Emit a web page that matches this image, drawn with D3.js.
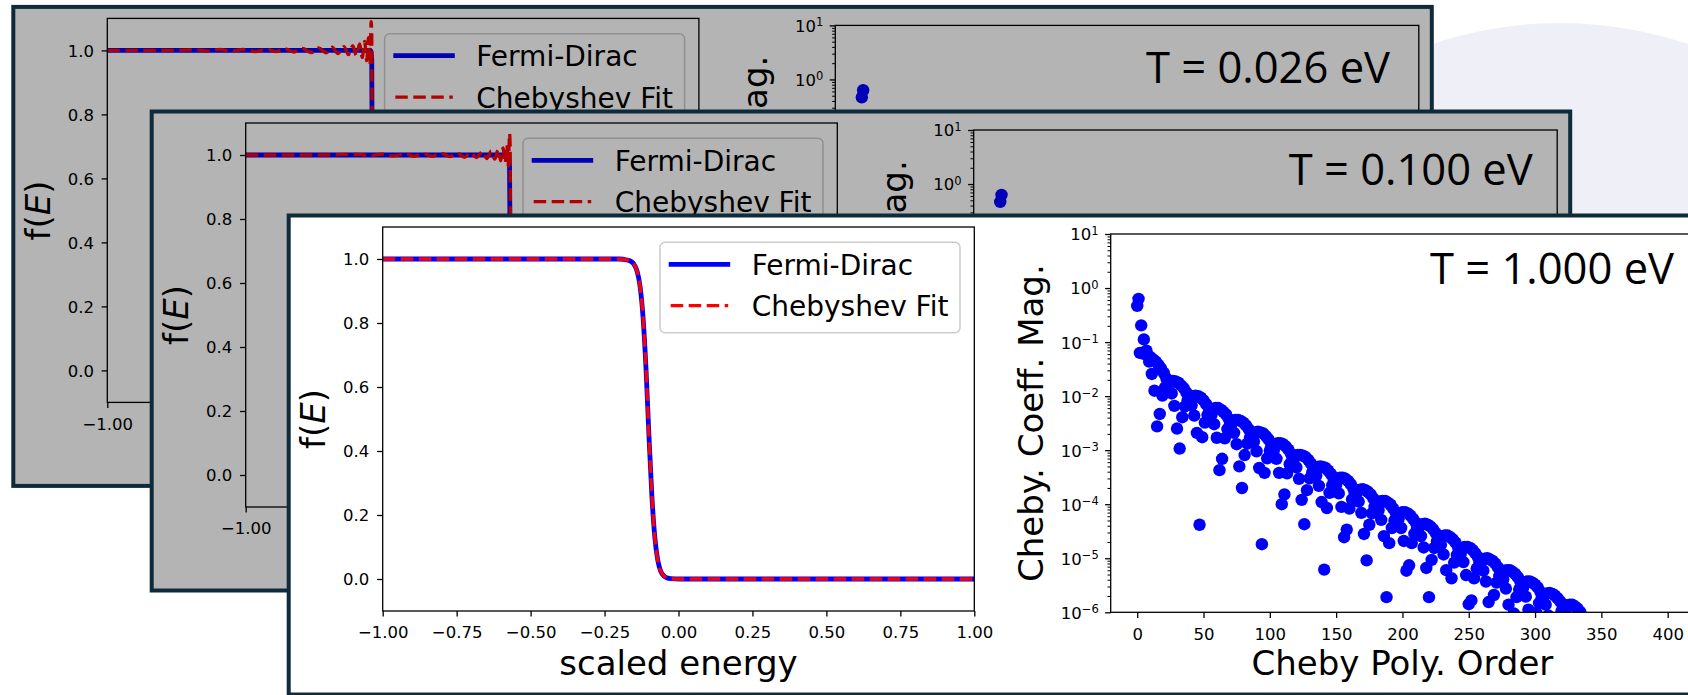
<!DOCTYPE html>
<html><head><meta charset="utf-8">
<script src="https://cdn.jsdelivr.net/npm/d3@7"></script>
<style>html,body{margin:0;padding:0;background:#fff;overflow:hidden}svg{display:block}</style>
</head><body>
<svg id="chart" width="1688" height="695"></svg>
<script>
// ---------------- DATA ----------------
const temperatureLabels = ["T = 0.026 eV", "T = 0.100 eV", "T = 1.000 eV"];
const legendLabels = ["Fermi-Dirac", "Chebyshev Fit"];
const energyTicks = [-1, -0.75, -0.5, -0.25, 0, 0.25, 0.5, 0.75, 1];
const occupationTicks = [0, 0.2, 0.4, 0.6, 0.8, 1.0];
const orderTicks = [0, 50, 100, 150, 200, 250, 300, 350, 400];
const coeffDecadeTicks = [1e-6, 1e-5, 1e-4, 1e-3, 1e-2, 1e-1, 1, 10];

// f(E) curves: [scaled energy, f]
const fermiT026 = [[-1,1],[-0.11,1],[-0.106,0.97],[-0.104,0.5],[-0.102,0.03],[-0.098,0],[1,0]];
const chebT026 = [[-1,1],[-0.8,1],[-0.7,1.002],[-0.66,0.998],[-0.62,1.003],[-0.58,0.997],[-0.54,1.003],[-0.5,0.996],
  [-0.46,1.004],[-0.43,0.996],[-0.4,1.005],[-0.37,0.995],[-0.34,1.006],[-0.31,0.993],[-0.285,1.008],[-0.26,0.992],
  [-0.24,1.01],[-0.22,0.99],[-0.2,1.012],[-0.185,0.987],[-0.17,1.015],[-0.158,0.984],[-0.147,1.02],[-0.138,0.978],
  [-0.13,1.028],[-0.123,0.968],[-0.117,1.04],[-0.112,0.955],[-0.108,1.09],[-0.106,1.05],[-0.105,0.8],[-0.103,0.4],
  [-0.101,0.05],[-0.099,-0.06],[-0.096,0.04],[-0.092,-0.03],[-0.087,0.025],[-0.08,-0.018],[-0.072,0.014],[-0.062,-0.011],
  [-0.05,0.009],[-0.035,-0.007],[-0.015,0.006],[0.01,-0.005],[0.04,0.004],[0.08,-0.003],[0.13,0.003],[0.2,-0.002],
  [0.3,0.002],[0.45,-0.001],[0.6,0],[1,0]];
const fermiT100 = [[-1,1],[-0.112,1],[-0.108,0.96],[-0.105,0.5],[-0.102,0.04],[-0.098,0],[1,0]];
const chebT100 = [[-1,1],[-0.75,1],[-0.62,1.002],[-0.58,0.998],[-0.54,1.003],[-0.5,0.997],[-0.46,1.003],[-0.43,0.996],
  [-0.4,1.004],[-0.37,0.996],[-0.34,1.005],[-0.31,0.995],[-0.285,1.006],[-0.26,0.993],[-0.24,1.008],[-0.22,0.992],
  [-0.2,1.01],[-0.185,0.989],[-0.17,1.012],[-0.158,0.987],[-0.147,1.016],[-0.138,0.982],[-0.13,1.022],[-0.123,0.975],
  [-0.117,1.032],[-0.112,0.965],[-0.108,1.067],[-0.106,1.03],[-0.105,0.8],[-0.103,0.4],[-0.101,0.05],[-0.099,-0.05],
  [-0.096,0.03],[-0.092,-0.025],[-0.087,0.02],[-0.08,-0.015],[-0.072,0.012],[-0.062,-0.009],[-0.05,0.007],[-0.035,-0.006],
  [-0.015,0.005],[0.01,-0.004],[0.04,0.003],[0.08,-0.003],[0.13,0.002],[0.2,-0.002],[0.3,0.001],[0.45,-0.001],[0.6,0],[1,0]];
const fermiT1000 = [[-1,1],[-0.2,1],[-0.175,0.997],[-0.16,0.992],[-0.15,0.983],[-0.14,0.962],[-0.13,0.915],[-0.12,0.82],
  [-0.11,0.66],[-0.1,0.45],[-0.09,0.26],[-0.08,0.13],[-0.07,0.058],[-0.06,0.024],[-0.05,0.01],[-0.04,0.004],[-0.025,0.001],[0,0],[1,0]];
const chebT1000 = [[-1,1],[-0.2,1],[-0.175,0.997],[-0.16,0.992],[-0.15,0.983],[-0.14,0.962],[-0.13,0.915],[-0.12,0.82],
  [-0.11,0.66],[-0.1,0.45],[-0.09,0.26],[-0.08,0.13],[-0.07,0.058],[-0.06,0.024],[-0.05,0.01],[-0.04,0.004],[-0.025,0.001],[0,0],[1,0]];

// log10 |c_n| for n = 0, 1, 2, ...
const coeffLogT026 = [-0.33,-0.20,-1.20,-0.69,-1.20,-0.95,-1.21,-1.15,-1.24,-1.35,-1.27,-1.58];
const coeffLogT100 = [-0.33,-0.20,-1.20,-0.69,-1.21,-0.95,-1.22,-1.16,-1.25,-1.36,-1.28,-1.59];
const coeffLogT1000 = [
-0.33,-0.20,-1.20,-0.69,-1.21,-0.95,-1.22,-1.16,-1.25,-1.36,
-1.28,-1.59,-1.32,-1.90,-1.36,-2.56,-1.42,-2.33,-1.49,-1.99,
-1.57,-1.84,-1.67,-1.77,-1.79,-1.73,-1.95,-1.72,-2.18,-1.73,
-2.60,-1.75,-2.97,-1.80,-2.39,-1.85,-2.19,-1.93,-2.08,-2.03,
-2.02,-2.17,-2.00,-2.36,-1.99,-2.68,-2.00,-4.38,-2.03,-2.76,
-2.08,-2.49,-2.15,-2.35,-2.23,-2.28,-2.35,-2.24,-2.52,-2.22,
-2.77,-2.22,-3.37,-2.25,-3.16,-2.29,-2.78,-2.34,-2.61,-2.42,
-2.52,-2.53,-2.47,-2.68,-2.44,-2.89,-2.44,-3.30,-2.46,-3.70,
-2.49,-3.09,-2.54,-2.88,-2.61,-2.77,-2.71,-2.70,-2.84,-2.67,
-3.02,-2.66,-3.33,-2.67,-4.74,-2.69,-3.42,-2.74,-3.15,-2.80,
-3.01,-2.89,-2.93,-3.00,-2.89,-3.16,-2.87,-3.42,-2.87,-4.00,
-2.89,-3.82,-2.93,-3.43,-2.99,-3.26,-3.07,-3.17,-3.17,-3.11,
-3.32,-3.09,-3.53,-3.09,-3.92,-3.10,-4.37,-3.13,-3.74,-3.18,
-3.52,-3.25,-3.41,-3.35,-3.34,-3.47,-3.31,-3.66,-3.30,-3.96,
-3.31,-5.21,-3.33,-4.07,-3.38,-3.79,-3.44,-3.65,-3.52,-3.57,
-3.64,-3.53,-3.80,-3.51,-4.05,-3.51,-4.61,-3.53,-4.47,-3.57,
-4.08,-3.63,-3.91,-3.71,-3.81,-3.81,-3.76,-3.95,-3.73,-4.16,
-3.72,-4.55,-3.74,-5.04,-3.77,-4.38,-3.82,-4.17,-3.89,-4.05,
-3.98,-3.98,-4.11,-3.95,-4.29,-3.94,-4.59,-3.94,-5.72,-3.97,
-4.72,-4.01,-4.44,-4.08,-4.30,-4.16,-4.22,-4.28,-4.17,-4.44,
-4.15,-4.68,-4.15,-5.23,-4.17,-5.13,-4.21,-4.72,-4.27,-4.55,
-4.34,-4.45,-4.45,-4.40,-4.59,-4.37,-4.80,-4.36,-5.18,-4.38,
-5.72,-4.41,-5.03,-4.46,-4.81,-4.53,-4.69,-4.62,-4.62,-4.75,
-4.59,-4.93,-4.58,-5.22,-4.58,-6.26,-4.61,-5.37,-4.65,-5.08,
-4.71,-4.94,-4.80,-4.86,-4.91,-4.81,-5.07,-4.79,-5.31,-4.79,
-5.85,-4.81,-5.78,-4.85,-5.37,-4.91,-5.19,-4.98,-5.09,-5.08,
-5.04,-5.23,-5.01,-5.43,-5.00,-5.81,-5.02,-6.41,-5.05,-5.68,
-5.10,-5.45,-5.17,-5.33,-5.26,-5.27,-5.39,-5.23,-5.56,-5.22,
-5.86,-5.22,-6.82,-5.25,-6.02,-5.29,-5.72,-5.35,-5.58,-5.44,
-5.50,-5.55,-5.45,-5.71,-5.43,-5.95,-5.43,-6.46,-5.45,-6.44,
-5.49,-6.01,-5.54,-5.83,-5.62,-5.73,-5.72,-5.68,-5.86,-5.65,
-6.06,-5.64,-6.43,-5.66,-7.09,-5.69,-6.32,-5.74,-6.10,-5.80,
-5.98,-5.90,-5.91,-6.02,-5.87,-6.20,-5.86,-6.49,-5.86,-7.39,
-5.89,-6.67,-5.93,-6.37,-5.99,-6.22,-6.08,-6.14,-6.19];

// ---------------- LAYOUT ----------------
const FONT = "DejaVu Sans";
const PW = 1418.5, PH = 479;
const LA = {x0: 94, x1: 685.6, y0: 10.5, y1: 394.5};
const RA = {x0: 822, x1: 1405.5, y0: 17.5, y1: 395.8};
const panels = [
  {ox: 13.3, oy: 7.9, dim: true, fermi: fermiT026, cheb: chebT026, coeff: coeffLogT026, label: temperatureLabels[0], tx: 1376.7, ty: 75.4},
  {ox: 151.7, oy: 112.5, dim: true, fermi: fermiT100, cheb: chebT100, coeff: coeffLogT100, label: temperatureLabels[1], tx: 1381, ty: 72.5},
  {ox: 288.7, oy: 216.5, dim: false, fermi: fermiT1000, cheb: chebT1000, coeff: coeffLogT1000, label: temperatureLabels[2], tx: 1385.3, ty: 67.5}
];
const DASH = "12.5,5.5", RED_W = 3.3, BLUE_W = 4.8;

const svg = d3.select("#chart");
svg.append("rect").attr("width", 1688).attr("height", 695).attr("fill", "#ffffff");
svg.append("circle").attr("cx", 1560).attr("cy", 423).attr("r", 400).attr("fill", "#efeff7");

const minus = s => s.replace(/-/g, "\u2212");

function styleAxis(ax, labelOffset, horizontal) {
  ax.attr("font-family", FONT).attr("font-size", 16.5);
  ax.select(".domain").remove();
  ax.selectAll(".tick line").attr("stroke", "#000").attr("stroke-width", 1.3);
  ax.selectAll(".tick text").attr("fill", "#000");
  if (horizontal) ax.selectAll(".tick text").attr("y", labelOffset).attr("dy", null);
}

const panelGroups = [];
panels.forEach((p, idx) => {
  const g = svg.append("g").attr("transform", `translate(${p.ox},${p.oy})`);
  panelGroups.push(g);
  g.append("rect").attr("x", 0).attr("y", -1).attr("width", PW).attr("height", PH).attr("fill", "#ffffff");

  // ---------- left chart : f(E) ----------
  const x = d3.scaleLinear().domain([-1, 1]).range([LA.x0, LA.x1]);
  const y = d3.scaleLinear().domain([-0.1, 1.1]).range([LA.y1, LA.y0]);
  const clipL = "clipL" + idx;
  g.append("clipPath").attr("id", clipL).append("rect")
    .attr("x", LA.x0).attr("y", LA.y0).attr("width", LA.x1 - LA.x0).attr("height", LA.y1 - LA.y0);
  const line = d3.line().x(d => x(d[0])).y(d => y(d[1])).curve(d3.curveMonotoneX);
  const lines = g.append("g").attr("clip-path", `url(#${clipL})`);
  lines.append("path").attr("d", line(p.fermi)).attr("fill", "none").attr("stroke", "#0000ff")
    .attr("stroke-width", BLUE_W).attr("stroke-linejoin", "round");
  lines.append("path").attr("d", line(p.cheb)).attr("fill", "none").attr("stroke", "#ff0000")
    .attr("stroke-width", RED_W).attr("stroke-dasharray", DASH);

  const xAx = g.append("g").attr("transform", `translate(0,${LA.y1})`)
    .call(d3.axisBottom(x).tickValues(energyTicks).tickSize(5.6).tickSizeOuter(0)
      .tickFormat(d => minus(d3.format(".2f")(d))));
  styleAxis(xAx, 27.3, true);
  const yAx = g.append("g").attr("transform", `translate(${LA.x0},0)`)
    .call(d3.axisLeft(y).tickValues(occupationTicks).tickSize(5.6).tickSizeOuter(0).tickPadding(7.8)
      .tickFormat(d => d3.format(".1f")(d)));
  styleAxis(yAx, 0, false);
  yAx.selectAll(".tick text").attr("dy", "0.36em");
  g.append("rect").attr("x", LA.x0).attr("y", LA.y0).attr("width", LA.x1 - LA.x0).attr("height", LA.y1 - LA.y0)
    .attr("fill", "none").attr("stroke", "#000").attr("stroke-width", 1.3);

  g.append("text").attr("x", (LA.x0 + LA.x1) / 2).attr("y", 458.5).attr("text-anchor", "middle")
    .attr("font-family", FONT).attr("font-size", 34).attr("fill", "#000").text("scaled energy");
  const fl = g.append("text").attr("transform", `translate(36.5,${(LA.y0 + LA.y1) / 2}) rotate(-90)`)
    .attr("text-anchor", "middle").attr("font-family", FONT).attr("font-size", 34).attr("fill", "#000");
  fl.append("tspan").text("f(");
  fl.append("tspan").attr("font-style", "italic").text("E");
  fl.append("tspan").text(")");

  // legend
  const lg = g.append("g");
  lg.append("rect").attr("x", 371.3).attr("y", 25.8).attr("width", 300).attr("height", 90.4).attr("rx", 5)
    .attr("fill", "#ffffff").attr("fill-opacity", 0.8).attr("stroke", "#cccccc").attr("stroke-width", 1.5);
  const rows = [47.8, 89.2];
  lg.append("line").attr("x1", 380).attr("x2", 441.5).attr("y1", rows[0]).attr("y2", rows[0])
    .attr("stroke", "#0000ff").attr("stroke-width", BLUE_W);
  lg.append("line").attr("x1", 382).attr("x2", 439.5).attr("y1", rows[1]).attr("y2", rows[1])
    .attr("stroke", "#ff0000").attr("stroke-width", RED_W).attr("stroke-dasharray", DASH);
  legendLabels.forEach((t, i) => {
    lg.append("text").attr("x", 463).attr("y", rows[i] + 10.5).attr("font-family", FONT).attr("font-size", 28)
      .attr("fill", "#000").text(t);
  });

  // ---------- right chart : coefficient magnitudes ----------
  const xr = d3.scaleLinear().domain([-20, 420]).range([RA.x0, RA.x1]);
  const yr = d3.scaleLog().domain([1e-6, 10]).range([RA.y1, RA.y0]);
  const clipR = "clipR" + idx;
  g.append("clipPath").attr("id", clipR).append("rect")
    .attr("x", RA.x0).attr("y", RA.y0).attr("width", RA.x1 - RA.x0).attr("height", RA.y1 - RA.y0);
  const pts = p.coeff.map((v, n) => ({n: n, mag: Math.pow(10, v)}));
  g.append("g").attr("clip-path", `url(#${clipR})`).selectAll("circle").data(pts).join("circle")
    .attr("cx", d => xr(d.n)).attr("cy", d => yr(d.mag)).attr("r", 6.2).attr("fill", "#0000ff");

  const xrAx = g.append("g").attr("transform", `translate(0,${RA.y1})`)
    .call(d3.axisBottom(xr).tickValues(orderTicks).tickSize(5.6).tickSizeOuter(0).tickFormat(d3.format("d")));
  styleAxis(xrAx, 27.3, true);
  const minors = yr.ticks().filter(v => Math.abs(Math.log10(v) - Math.round(Math.log10(v))) > 1e-6);
  const yrMinor = g.append("g").attr("transform", `translate(${RA.x0},0)`)
    .call(d3.axisLeft(yr).tickValues(minors).tickSize(3.2).tickSizeOuter(0).tickFormat(() => ""));
  yrMinor.select(".domain").remove();
  yrMinor.selectAll(".tick text").remove();
  yrMinor.selectAll(".tick line").attr("stroke", "#000").attr("stroke-width", 1);
  const yrAx = g.append("g").attr("transform", `translate(${RA.x0},0)`)
    .call(d3.axisLeft(yr).tickValues(coeffDecadeTicks).tickSize(5.6).tickSizeOuter(0).tickPadding(6.4).tickFormat(() => ""));
  styleAxis(yrAx, 0, false);
  yrAx.selectAll(".tick text").attr("dy", "0.36em").each(function (d) {
    const t = d3.select(this);
    const e = Math.round(Math.log10(d));
    t.append("tspan").text("10");
    t.append("tspan").attr("dy", "-0.5em").attr("font-size", 11.5).text(minus(String(e)));
  });
  g.append("rect").attr("x", RA.x0).attr("y", RA.y0).attr("width", RA.x1 - RA.x0).attr("height", RA.y1 - RA.y0)
    .attr("fill", "none").attr("stroke", "#000").attr("stroke-width", 1.3);

  g.append("text").attr("x", (RA.x0 + RA.x1) / 2).attr("y", 458.5).attr("text-anchor", "middle")
    .attr("font-family", FONT).attr("font-size", 34).attr("fill", "#000").text("Cheby Poly. Order");
  g.append("text").attr("transform", `translate(753.8,${(RA.y0 + RA.y1) / 2}) rotate(-90)`)
    .attr("text-anchor", "middle").attr("font-family", FONT).attr("font-size", 34).attr("fill", "#000")
    .text("Cheby. Coeff. Mag.");

  // temperature annotation
  g.append("text").attr("x", p.tx).attr("y", p.ty).attr("text-anchor", "end")
    .attr("font-family", "Open Sans").attr("font-size", 43).attr("fill", "#000")
    .attr("textLength", 244).attr("lengthAdjust", "spacingAndGlyphs").text(p.label);

  if (p.dim) {
    g.append("rect").attr("x", 0).attr("y", -1).attr("width", PW).attr("height", PH)
      .attr("fill", "#000").attr("opacity", 0.295);
  }
  g.append("rect").attr("x", 0).attr("y", -1).attr("width", PW).attr("height", PH)
    .attr("fill", "none").attr("stroke", "#0f2a3a").attr("stroke-width", 4);
});

// texts of the back panels that are completely hidden behind a later panel are not kept
panelGroups.forEach((g, i) => {
  g.selectAll("text").each(function () {
    const b = this.getBoundingClientRect();
    if (b.width === 0 && b.height === 0) return;
    for (let j = i + 1; j < panels.length; j++) {
      const q = panels[j];
      const L0 = q.ox, T0 = q.oy - 1, R0 = q.ox + PW, B0 = q.oy - 1 + PH;
      if (b.left >= L0 && b.right <= R0 && b.top >= T0 && b.bottom <= B0) { d3.select(this).remove(); return; }
    }
  });
});
</script>
</body></html>
